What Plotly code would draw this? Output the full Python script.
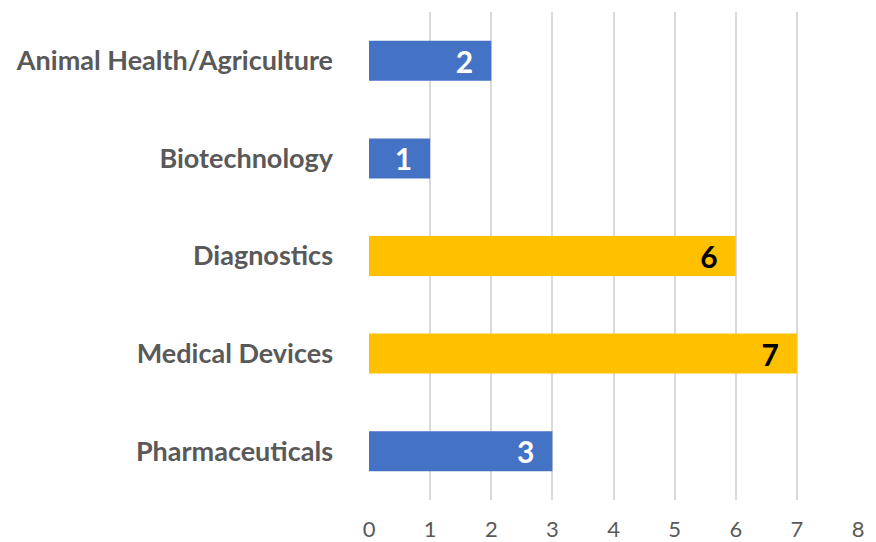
import plotly.graph_objects as go

categories = ["Animal Health/Agriculture", "Biotechnology", "Diagnostics",
              "Medical Devices", "Pharmaceuticals"]
counts = [2, 1, 6, 7, 3]
bar_colors = ["#4472C4", "#4472C4", "#FFC000", "#FFC000", "#4472C4"]
label_colors = ["white", "white", "black", "black", "white"]

fig = go.Figure()
fig.add_bar(
    y=categories,
    x=counts,
    orientation="h",
    marker={"color": bar_colors, "line": {"width": 0}},
    # en space keeps the value off the bar end, like the original
    text=[f"{v}\u2002" for v in counts],
    textposition="inside",
    insidetextanchor="end",
    textangle=0,
    constraintext="none",
    textfont={"family": "Lato", "size": 30, "color": label_colors, "weight": "bold"},
    showlegend=False,
)

# page body has an 8px margin, so the figure is shrunk by 8px on each axis
fig.update_layout(
    width=868,
    height=534,
    margin={"l": 361, "r": 18, "t": 4, "b": 42, "autoexpand": False},
    paper_bgcolor="white",
    plot_bgcolor="white",
    bargap=0.59,
    font={"family": "Lato", "color": "#595959"},
)
fig.update_xaxes(
    range=[0, 8],
    dtick=1,
    showgrid=True,
    gridcolor="#D9D9D9",
    gridwidth=1.5,
    zeroline=False,
    showline=False,
    ticks="",
    ticklabelstandoff=14,
    tickfont={"size": 22, "color": "#595959"},
    automargin=False,
)
fig.update_yaxes(
    autorange="reversed",
    showgrid=False,
    showline=False,
    ticks="",
    ticklabelstandoff=35,
    tickfont={"size": 27, "color": "#595959", "weight": "bold"},
    automargin=False,
)

fig.write_html("out.html")
